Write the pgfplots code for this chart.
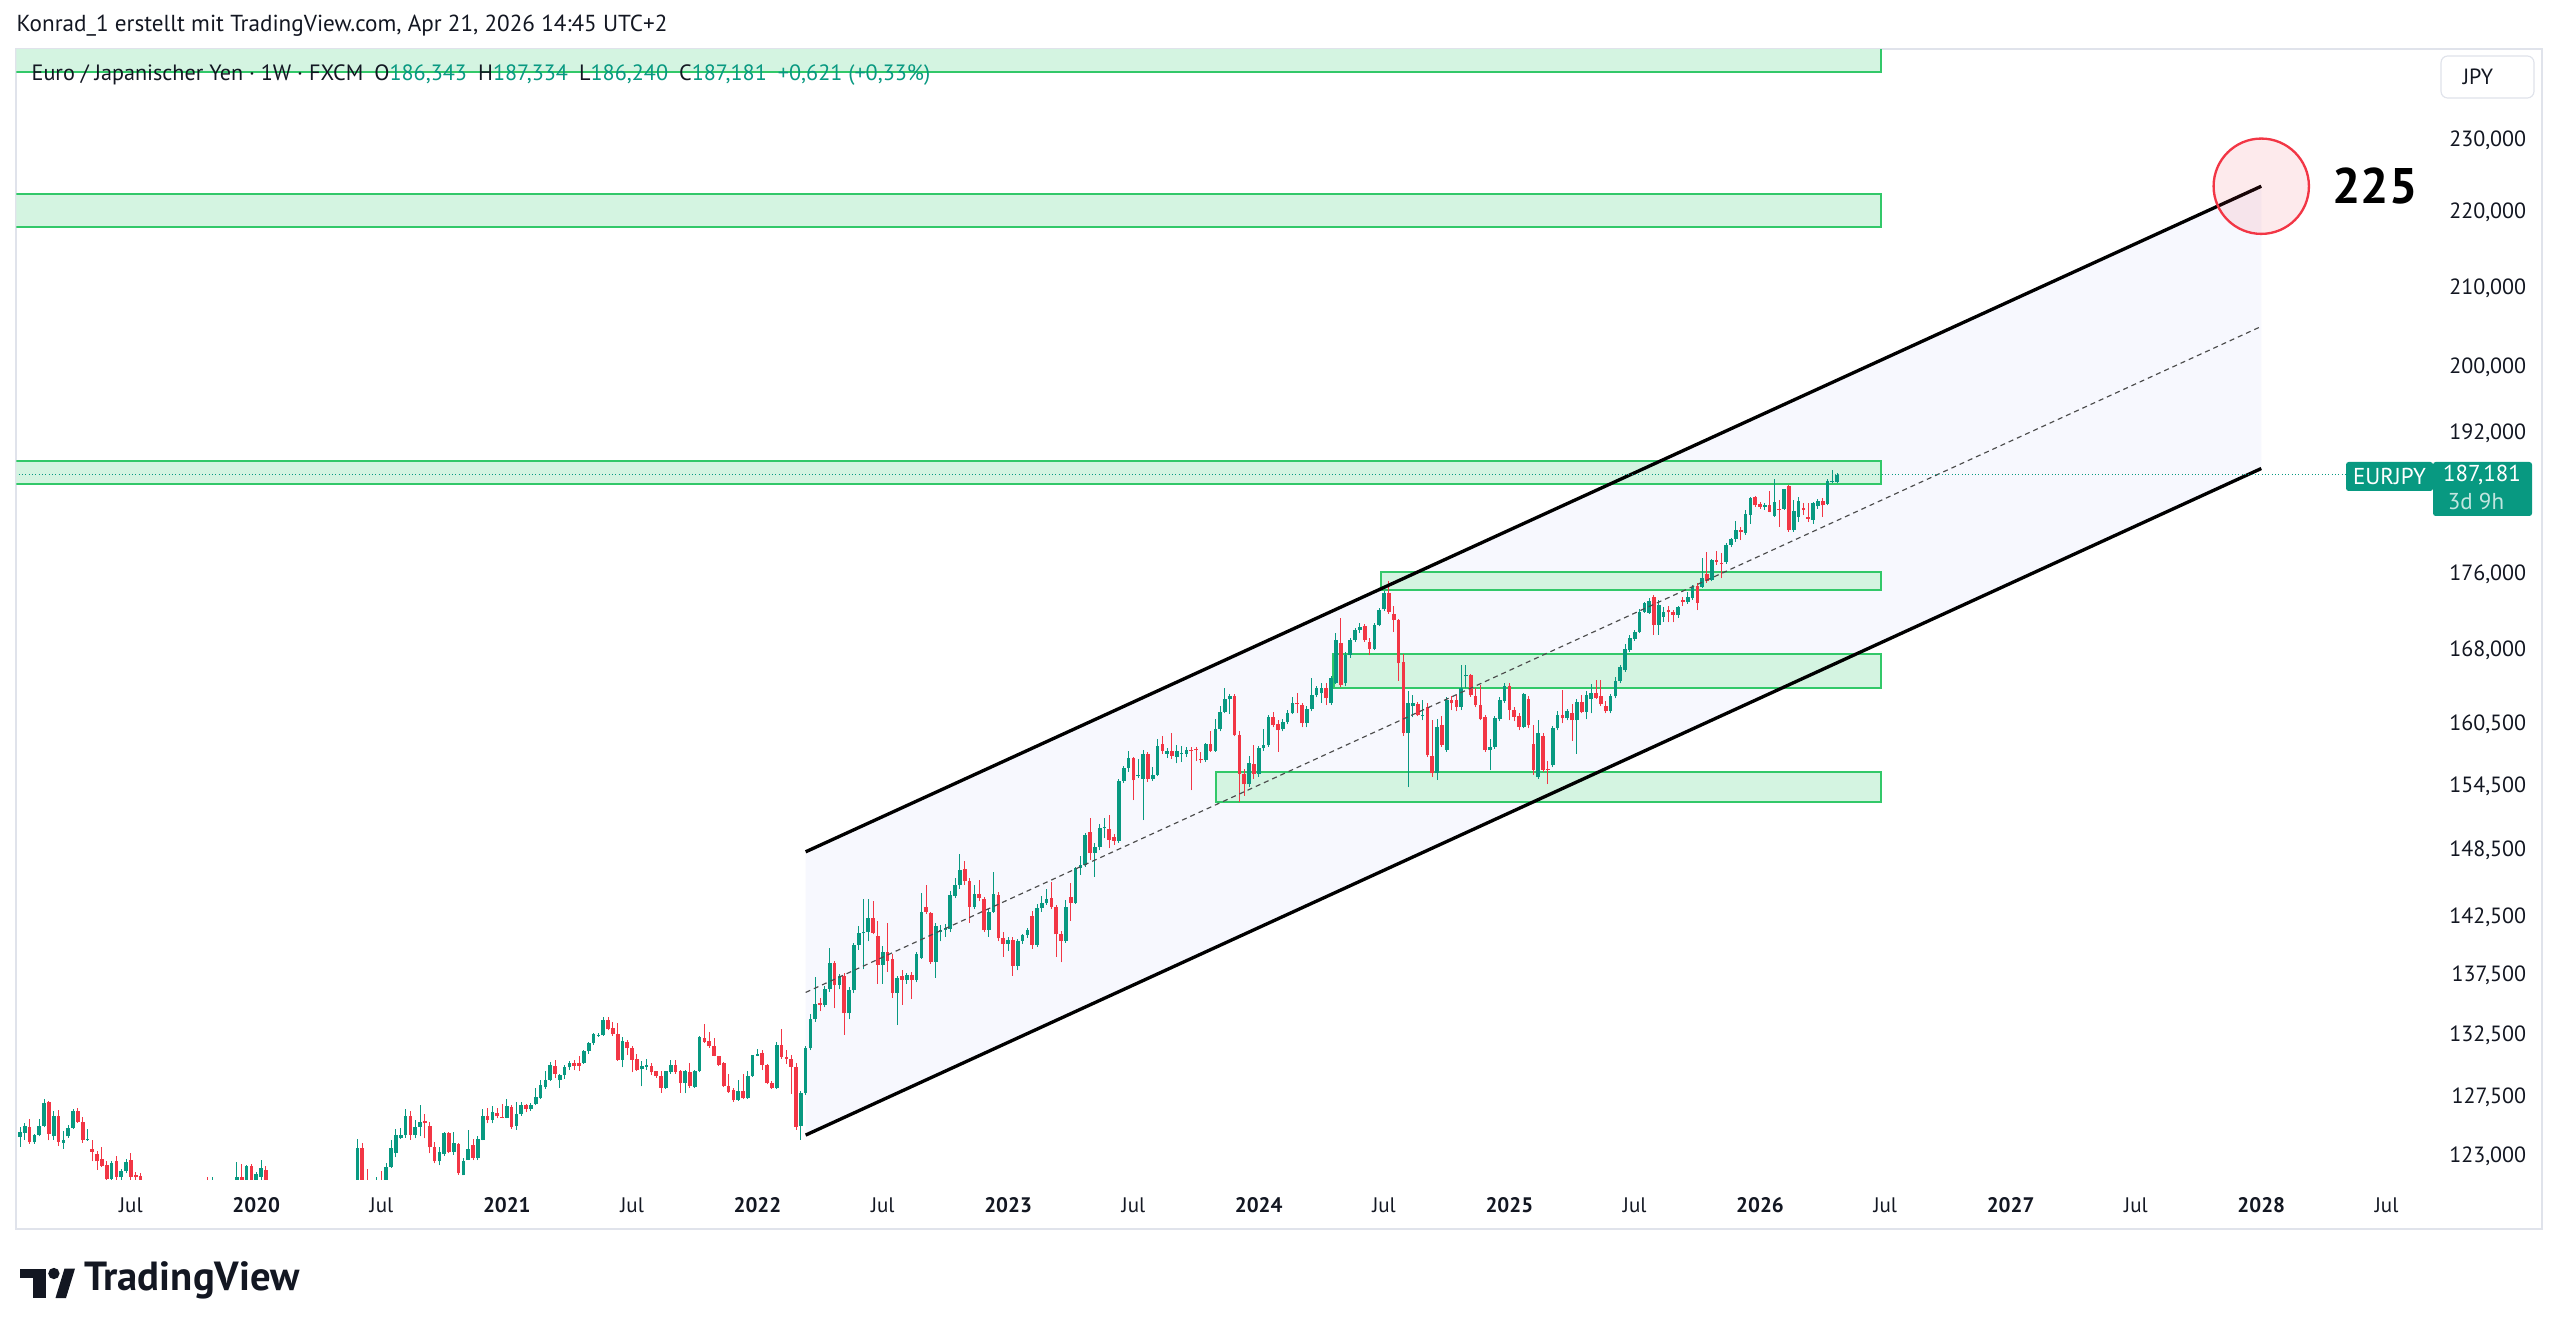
\documentclass[border=0pt]{standalone}
\usepackage{fontspec}
\setmainfont{PT Sans}
\usepackage{pgfplots}
\pgfplotsset{compat=1.18}
\usepackage{pgfplotstable}
\definecolor{tvgreen}{RGB}{8,153,129}
\definecolor{tvred}{RGB}{242,54,69}
\definecolor{tvtext}{RGB}{19,23,34}
\definecolor{zoneline}{RGB}{50,200,105}
\definecolor{zonefill}{RGB}{212,244,225}
\definecolor{chanfill}{RGB}{247,248,254}
\definecolor{bordergray}{RGB}{224,227,235}

% weekly candles EUR/JPY: week index, open, high, low, close
\pgfplotstableread{
i o h l c
0 124.44 125.23 123.70 124.82
1 124.77 125.54 124.26 125.33
2 125.23 125.84 123.95 124.06
3 124.06 124.70 123.95 124.59
4 124.59 125.84 124.50 125.33
5 125.33 127.37 125.20 127.07
6 127.17 127.24 124.20 124.69
7 124.50 126.48 124.26 126.10
8 126.05 126.55 123.75 124.06
9 124.00 124.90 123.55 124.26
10 124.50 125.40 124.40 125.15
11 125.15 126.63 125.10 126.43
12 126.43 126.68 125.54 125.64
13 125.64 126.00 124.00 124.21
14 124.21 125.08 124.15 124.34
15 123.55 124.26 122.60 123.34
16 123.16 123.37 121.97 122.60
17 122.80 123.65 122.20 122.27
18 122.35 122.60 121.00 121.25
19 121.25 122.60 121.00 122.47
20 122.65 123.04 121.10 121.45
21 121.40 122.00 121.00 121.84
22 121.84 122.80 121.70 122.53
23 122.73 123.24 121.10 121.45
24 121.58 121.76 121.00 121.40
25 121.50 121.70 120.50 121.20
26 120.90 121.10 118.90 119.20
27 119.20 119.60 117.60 117.90
28 117.90 118.40 116.00 117.40
29 117.40 118.60 117.00 118.20
30 118.20 118.90 117.60 117.80
31 117.80 118.50 117.20 118.30
32 118.30 119.30 118.00 119.10
33 119.10 119.40 118.20 118.50
34 118.50 119.00 117.60 118.00
35 118.00 119.00 117.80 118.70
36 118.70 120.20 118.50 120.00
37 120.00 121.00 119.70 120.70
38 120.70 121.10 120.10 120.50
39 120.60 121.45 120.00 120.20
40 120.20 121.40 119.90 120.80
41 120.80 121.10 120.10 120.30
42 120.30 121.00 119.80 120.60
43 120.60 121.10 120.20 120.50
44 120.50 121.10 120.00 120.90
45 121.00 122.53 120.60 121.45
46 121.45 122.40 120.70 121.00
47 121.00 122.35 120.80 122.27
48 122.27 122.40 120.50 121.00
49 121.00 121.80 120.60 121.66
50 121.45 122.73 121.20 122.10
51 121.96 122.22 120.50 121.00
52 121.00 121.10 119.80 120.20
53 120.20 120.90 119.50 120.60
54 120.60 121.10 119.90 120.30
55 120.30 120.80 118.60 119.00
56 119.00 119.60 117.80 118.40
57 118.40 119.20 115.90 117.90
58 117.90 120.00 116.80 119.80
59 119.80 121.10 116.20 117.40
60 117.40 119.30 115.70 118.90
61 118.90 119.80 117.40 118.30
62 118.30 118.90 117.00 117.90
63 117.90 118.60 115.50 116.80
64 116.80 117.60 115.90 117.20
65 117.20 117.80 114.40 115.90
66 115.90 116.80 114.80 116.30
67 116.30 117.90 115.70 117.60
68 117.60 119.60 117.20 119.30
69 119.30 121.00 118.80 120.70
70 121.00 124.30 120.80 123.62
71 123.62 124.00 120.90 121.00
72 121.00 122.00 119.90 120.50
73 120.50 121.10 119.70 120.90
74 120.90 121.45 120.30 121.10
75 121.10 121.84 120.60 120.90
76 121.00 122.50 120.70 122.17
77 122.17 124.20 122.10 123.62
78 123.24 125.08 122.90 124.60
79 124.39 125.15 124.30 124.64
80 124.57 126.60 124.40 126.05
81 126.05 126.43 124.26 124.64
82 124.60 125.77 124.35 125.25
83 125.25 126.94 124.50 125.60
84 125.66 126.20 124.35 125.50
85 125.30 125.60 123.20 123.65
86 123.65 124.10 122.45 122.60
87 122.60 123.70 122.30 123.30
88 123.15 124.85 123.00 124.80
89 124.80 124.85 123.20 123.30
90 123.30 124.85 123.10 124.00
91 123.90 124.00 121.60 121.70
92 121.55 122.85 121.55 122.60
93 122.70 125.00 122.70 123.50
94 123.85 124.30 122.70 122.85
95 122.85 124.50 122.70 124.30
96 124.25 126.60 124.20 126.10
97 126.05 126.70 125.50 125.80
98 125.80 126.85 125.50 126.40
99 126.30 126.70 125.90 126.05
100 126.00 127.00 125.90 125.95
101 125.95 127.40 125.90 126.85
102 126.80 126.95 125.10 125.20
103 125.30 127.20 125.00 126.20
104 126.20 127.20 126.10 126.90
105 126.90 127.00 126.35 126.60
106 126.60 127.05 126.50 126.95
107 127.00 128.30 126.90 127.60
108 127.50 128.90 127.40 128.50
109 128.35 129.60 128.20 128.90
110 128.90 130.35 128.85 130.10
111 130.00 130.50 129.10 129.40
112 128.88 129.40 128.30 129.30
113 129.30 130.10 129.00 129.90
114 129.90 130.40 129.70 130.30
115 130.30 130.50 129.70 130.05
116 130.30 130.80 129.60 130.00
117 130.30 131.30 130.20 131.20
118 131.20 132.00 131.00 131.85
119 131.85 132.70 131.70 132.60
120 132.50 132.70 132.40 132.55
121 132.50 134.00 132.45 133.75
122 133.75 134.00 132.90 133.00
123 133.10 133.60 132.45 132.60
124 132.60 133.50 130.45 130.50
125 130.50 132.40 129.90 132.05
126 132.00 132.10 130.90 131.45
127 131.45 131.60 129.50 130.50
128 130.55 131.00 129.65 129.70
129 129.75 130.45 128.40 130.00
130 129.95 130.60 129.70 130.10
131 130.05 130.30 129.30 129.50
132 129.60 129.65 129.10 129.20
133 129.25 129.60 127.90 128.30
134 128.30 129.60 128.20 129.60
135 129.50 130.50 129.40 130.10
136 130.10 130.50 129.40 129.55
137 129.65 129.70 127.90 128.65
138 128.65 129.70 127.85 129.60
139 129.55 130.30 128.30 128.45
140 128.35 129.70 128.25 129.65
141 129.60 132.45 129.50 132.35
142 132.30 133.40 131.90 132.00
143 132.05 132.80 131.50 131.60
144 131.65 132.30 130.80 130.85
145 130.80 130.85 130.00 130.10
146 130.25 130.35 128.35 128.40
147 128.45 129.35 127.90 127.95
148 128.10 128.30 127.20 127.30
149 127.35 128.90 127.25 128.05
150 128.00 129.40 127.40 127.45
151 127.45 129.60 127.40 129.25
152 129.20 130.90 129.15 130.90
153 130.85 131.40 130.80 131.00
154 131.05 131.30 129.70 130.10
155 130.10 130.20 128.55 128.65
156 128.70 128.85 128.20 128.25
157 128.25 132.00 128.20 131.70
158 131.70 133.00 130.60 130.77
159 130.77 131.30 130.20 130.60
160 130.60 130.90 127.80 129.97
161 129.97 130.30 125.00 125.25
162 125.30 128.00 124.23 127.85
163 127.85 131.60 127.70 131.45
164 131.45 134.30 131.30 133.82
165 133.82 137.38 133.60 135.09
166 135.20 135.60 134.50 135.00
167 135.00 136.60 134.80 136.34
168 136.34 139.80 136.10 138.57
169 138.57 138.70 134.73 136.68
170 136.68 137.60 136.30 137.44
171 137.44 137.70 132.54 134.31
172 134.31 136.50 133.80 136.25
173 136.25 140.30 136.00 140.09
174 140.09 141.70 139.70 141.16
175 141.10 144.08 138.00 141.25
176 141.20 144.10 140.40 142.41
177 142.41 143.90 141.00 141.15
178 140.90 142.20 136.80 138.37
179 138.37 140.00 136.80 139.45
180 139.45 142.00 137.80 138.74
181 138.90 139.30 135.60 136.04
182 136.04 137.40 133.35 137.24
183 137.40 137.90 135.00 137.10
184 137.10 137.70 136.80 137.50
185 137.50 137.80 135.50 137.10
186 137.10 139.50 136.90 139.28
187 139.00 144.62 138.90 142.99
188 143.44 145.37 142.80 143.00
189 142.90 143.00 138.50 138.65
190 138.65 142.00 137.30 141.73
191 141.20 141.80 140.40 141.40
192 141.40 141.90 140.80 141.60
193 141.50 144.80 141.20 144.44
194 144.40 146.00 144.20 145.40
195 145.37 148.20 145.00 146.71
196 146.80 147.50 145.40 145.70
197 145.70 146.00 142.00 143.44
198 143.44 145.40 143.20 144.60
199 144.60 145.80 143.90 144.20
200 144.10 144.30 141.20 141.40
201 141.40 143.20 140.80 143.00
202 143.00 146.57 142.90 144.57
203 144.50 144.70 140.40 140.67
204 140.67 141.20 139.09 140.18
205 140.18 140.80 139.60 140.50
206 140.50 140.80 137.45 138.31
207 138.31 140.60 137.90 140.46
208 140.46 141.00 140.20 140.95
209 140.95 141.60 140.70 141.40
210 142.60 143.10 139.75 140.10
211 140.10 143.70 139.90 143.29
212 143.29 144.40 143.00 143.74
213 143.74 145.00 143.60 144.12
214 144.20 145.60 143.20 143.44
215 143.44 143.60 139.10 141.00
216 141.00 141.30 138.60 140.46
217 140.46 144.00 140.30 143.40
218 144.33 145.50 142.20 143.80
219 143.80 147.00 143.70 146.87
220 146.87 148.00 146.30 147.20
221 147.20 150.10 147.00 149.90
222 150.20 151.46 147.60 148.30
223 148.30 149.20 146.10 148.84
224 148.84 150.90 148.50 150.53
225 150.53 151.50 149.60 150.70
226 150.50 151.80 148.70 149.50
227 149.70 150.00 149.00 149.40
228 149.40 155.20 149.20 155.00
229 155.00 156.40 154.80 156.20
230 156.20 157.90 155.90 157.17
231 157.17 157.30 153.18 155.06
232 155.50 157.10 155.30 155.60
233 155.20 158.00 151.30 157.55
234 157.55 157.80 154.90 155.20
235 155.20 156.30 155.00 155.60
236 155.60 159.10 155.50 158.37
237 158.60 159.30 157.60 157.90
238 157.60 158.20 157.20 157.90
239 157.90 159.60 157.10 157.40
240 157.30 158.50 156.70 157.90
241 157.60 158.40 156.80 157.70
242 157.60 158.30 157.30 158.00
243 158.00 158.30 154.10 157.90
244 158.05 158.30 156.90 157.95
245 157.10 157.80 156.70 157.00
246 157.00 158.70 156.80 158.57
247 158.60 159.80 157.80 157.90
248 157.90 161.00 157.80 160.00
249 160.00 162.30 159.80 161.76
250 161.76 164.10 161.60 162.99
251 162.99 163.50 161.50 163.30
252 163.30 163.50 159.30 159.44
253 159.44 159.80 153.03 155.70
254 155.70 156.10 153.60 154.67
255 154.67 157.40 154.40 156.68
256 156.60 158.50 155.20 155.65
257 155.65 158.40 155.40 158.14
258 158.14 160.00 157.90 158.50
259 158.50 161.40 158.30 161.20
260 161.20 161.70 160.20 160.40
261 160.50 160.90 157.80 159.90
262 160.00 161.00 159.80 160.70
263 160.70 161.90 160.50 161.60
264 161.60 163.20 161.50 162.65
265 162.65 163.60 161.60 162.50
266 162.40 162.60 160.20 160.60
267 160.60 162.30 160.20 162.00
268 162.00 165.10 161.80 163.40
269 163.40 164.30 163.20 164.10
270 163.60 164.60 162.60 164.10
271 164.10 164.60 162.40 163.10
272 162.60 165.30 162.40 165.10
273 164.60 169.80 164.50 169.06
274 168.70 171.33 164.20 164.40
275 164.60 167.80 164.30 167.50
276 167.50 169.30 167.20 169.06
277 169.10 170.30 168.90 170.10
278 170.10 170.80 169.80 170.45
279 170.50 170.70 168.90 169.06
280 168.90 169.30 167.50 168.18
281 168.18 170.80 168.00 170.63
282 170.63 172.40 170.50 172.20
283 172.30 174.30 172.10 174.07
284 174.00 175.30 171.80 172.00
285 171.85 172.60 169.90 171.15
286 171.15 171.30 164.90 166.65
287 166.80 167.66 159.40 159.60
288 159.60 163.80 154.40 162.59
289 162.30 163.40 161.20 162.60
290 162.50 162.70 161.30 161.40
291 161.30 162.90 160.90 161.45
292 162.26 162.60 157.30 157.48
293 157.40 160.90 155.40 155.72
294 155.72 161.00 155.10 160.27
295 160.40 161.30 158.30 158.47
296 157.97 163.26 157.80 162.93
297 162.93 163.30 161.90 162.59
298 162.90 163.40 161.80 162.26
299 162.26 166.48 161.90 164.10
300 165.30 166.50 164.10 165.45
301 165.45 165.60 163.26 163.40
302 163.30 164.10 162.20 162.40
303 162.40 164.40 160.90 161.00
304 161.26 161.40 157.80 157.97
305 157.97 159.10 156.00 158.30
306 158.30 161.30 158.10 161.10
307 161.00 163.26 160.80 162.93
308 162.80 164.60 162.60 164.30
309 164.30 164.60 160.90 161.93
310 161.93 162.26 160.80 161.26
311 161.30 161.60 159.90 160.27
312 160.27 163.60 160.10 163.50
313 163.00 163.30 160.10 160.40
314 158.60 160.40 155.60 156.04
315 155.41 160.93 155.20 159.60
316 159.30 159.60 155.90 156.04
317 156.10 156.90 154.70 156.00
318 156.50 160.30 156.30 160.10
319 160.10 161.80 159.90 161.40
320 161.40 163.90 160.60 161.10
321 161.10 162.00 160.90 161.80
322 161.60 162.50 158.90 160.90
323 160.90 163.00 157.60 162.76
324 162.70 163.40 161.60 161.70
325 161.70 163.80 161.00 163.40
326 163.00 164.50 161.60 163.60
327 163.60 165.00 163.00 163.10
328 163.30 165.00 162.30 162.50
329 162.30 162.80 161.60 161.80
330 161.80 163.50 161.60 163.30
331 163.30 165.20 163.10 164.87
332 164.87 166.50 164.60 166.24
333 166.00 168.60 165.80 168.18
334 168.00 169.60 167.80 169.23
335 169.20 170.10 169.00 169.90
336 169.90 172.30 169.80 172.03
337 172.00 173.10 171.90 172.93
338 171.90 173.50 171.80 173.20
339 173.60 173.80 169.60 170.63
340 170.63 173.28 169.60 172.74
341 171.50 172.50 171.00 172.03
342 172.20 172.60 170.90 172.00
343 172.00 172.20 170.90 171.70
344 171.70 172.70 171.40 172.50
345 173.28 173.60 172.70 173.10
346 173.10 174.10 172.90 173.60
347 173.45 174.90 173.30 174.71
348 174.78 175.08 172.20 173.00
349 174.70 177.79 174.60 175.60
350 176.08 178.50 175.10 175.30
351 175.45 177.70 175.30 177.60
352 177.60 178.60 177.10 177.40
353 177.30 178.40 175.60 177.20
354 177.40 179.50 177.20 179.26
355 179.26 180.00 179.00 179.90
356 179.90 181.90 179.60 180.92
357 180.90 181.30 179.80 180.70
358 180.55 183.20 180.40 182.71
359 182.60 184.70 181.60 184.48
360 184.60 184.80 183.50 183.70
361 183.90 184.10 183.30 183.50
362 183.50 184.00 183.20 183.70
363 183.70 185.30 182.90 183.00
364 182.50 186.66 182.40 184.10
365 183.30 184.30 181.30 183.20
366 183.30 185.60 183.20 185.50
367 185.90 186.00 180.70 180.90
368 180.90 184.30 180.70 183.10
369 182.40 184.70 181.80 184.20
370 183.40 184.00 182.60 183.20
371 182.40 184.00 181.80 182.20
372 182.10 184.10 181.60 184.00
373 183.60 184.40 183.30 184.20
374 184.20 184.50 182.40 183.70
375 183.90 186.70 183.70 186.50
376 186.40 187.70 186.30 186.50
377 186.343 187.334 186.240 187.181
}\candles

\begin{document}
\begin{tikzpicture}
\begin{scope}[x=0.3pt,y=0.3pt]
\path[fill=white] (0,0) rectangle (2560,1336);
\draw[bordergray, line width=0.35pt] (16,107) rectangle (2542,1287);
\end{scope}
\begin{axis}[
  at={(4.89pt,47.1pt)}, anchor=south west,
  scale only axis, width=723.96pt, height=339pt,
  xmin=-0.77, xmax=499.9,
  ymin=4.798019, ymax=5.494418,
  axis line style={draw=none},
  major tick length=0pt, minor tick num=0,
  xtick={23,49,75,101,127,153,179,205,231,257,283,309,335,361,387,413,439,465,491},
  xticklabels={Jul,\textbf{2020},Jul,\textbf{2021},Jul,\textbf{2022},Jul,\textbf{2023},Jul,\textbf{2024},Jul,\textbf{2025},Jul,\textbf{2026},Jul,\textbf{2027},Jul,\textbf{2028},Jul},
  xticklabel style={anchor=center, yshift=-7.8pt, font=\fontsize{6.3}{7}\selectfont, text=tvtext},
  % price levels 123 127.5 132.5 137.5 142.5 148.5 154.5 160.5 168 176 192 200 210 220 230 (log scale)
  ytick={4.812184,4.848116,4.886582,4.923623,4.959341,5.000584,5.040193,5.078293,5.123963,5.170483,5.257494,5.298317,5.347108,5.393628,5.438079},
  yticklabels={{123,000},{127,500},{132,500},{137,500},{142,500},{148,500},{154,500},{160,500},{168,000},{176,000},{192,000},{200,000},{210,000},{220,000},{230,000}},
  yticklabel pos=right,
  yticklabel style={anchor=east, inner sep=0pt, xshift=29.2pt, font=\fontsize{6.6}{7.5}\selectfont, text=tvtext},
  clip=true,
]
% channel fill
\addplot[fill=chanfill, draw=none, forget plot] table[row sep=\\, x=x, y expr=ln(\thisrow{p})] {x p\\ 163 148.37\\ 465 223.6\\ 465 187.9\\ 163 124.6\\} -- cycle;
% zones
\addplot[fill=zonefill, draw=zoneline, line width=0.65pt, forget plot] table[row sep=\\, x=x, y expr=ln(\thisrow{p})] {x p\\ -5 239.9\\ 386.1 239.9\\ 386.1 260\\ -5 260\\} -- cycle;
\addplot[fill=zonefill, draw=zoneline, line width=0.65pt, forget plot] table[row sep=\\, x=x, y expr=ln(\thisrow{p})] {x p\\ -5 218.05\\ 386.1 218.05\\ 386.1 222.49\\ -5 222.49\\} -- cycle;
\addplot[fill=zonefill, draw=zoneline, line width=0.65pt, forget plot] table[row sep=\\, x=x, y expr=ln(\thisrow{p})] {x p\\ -5 186.1\\ 386.1 186.1\\ 386.1 188.8\\ -5 188.8\\} -- cycle;
\addplot[fill=zonefill, draw=zoneline, line width=0.65pt, forget plot] table[row sep=\\, x=x, y expr=ln(\thisrow{p})] {x p\\ 282.4 174.4\\ 386.1 174.4\\ 386.1 176.3\\ 282.4 176.3\\} -- cycle;
\addplot[fill=zonefill, draw=zoneline, line width=0.65pt, forget plot] table[row sep=\\, x=x, y expr=ln(\thisrow{p})] {x p\\ 272.5 164.1\\ 386.1 164.1\\ 386.1 167.57\\ 272.5 167.57\\} -- cycle;
\addplot[fill=zonefill, draw=zoneline, line width=0.65pt, forget plot] table[row sep=\\, x=x, y expr=ln(\thisrow{p})] {x p\\ 248.2 153.0\\ 386.1 153.0\\ 386.1 155.85\\ 248.2 155.85\\} -- cycle;
% wicks
\addplot[draw=none, mark=none, forget plot,
  restrict expr to domain={\thisrow{c}-\thisrow{o}}{0:1000},
  error bars/.cd, y dir=plus, y explicit, error mark=none,
  error bar style={tvgreen, line width=0.3pt}]
  table[x=i, y expr=ln(\thisrow{l}), y error plus expr=ln(\thisrow{h})-ln(\thisrow{l})] {\candles};
\addplot[draw=none, mark=none, forget plot,
  restrict expr to domain={\thisrow{o}-\thisrow{c}}{0.000001:1000},
  error bars/.cd, y dir=plus, y explicit, error mark=none,
  error bar style={tvred, line width=0.3pt}]
  table[x=i, y expr=ln(\thisrow{l}), y error plus expr=ln(\thisrow{h})-ln(\thisrow{l})] {\candles};
% bodies
\addplot[draw=none, mark=none, forget plot,
  restrict expr to domain={\thisrow{c}-\thisrow{o}}{0:1000},
  error bars/.cd, y dir=plus, y explicit, error mark=none,
  error bar style={tvgreen, line width=1.1pt}]
  table[x=i, y expr=ln(\thisrow{o}), y error plus expr=ln(\thisrow{c})-ln(\thisrow{o})] {\candles};
\addplot[draw=none, mark=none, forget plot,
  restrict expr to domain={\thisrow{o}-\thisrow{c}}{0.000001:1000},
  error bars/.cd, y dir=plus, y explicit, error mark=none,
  error bar style={tvred, line width=1.1pt}]
  table[x=i, y expr=ln(\thisrow{c}), y error plus expr=ln(\thisrow{o})-ln(\thisrow{c})] {\candles};
% channel lines
\addplot[black, line width=1pt, forget plot] table[row sep=\\, x=x, y expr=ln(\thisrow{p})] {x p\\ 163 148.37\\ 465 223.6\\};
\addplot[black, line width=1pt, forget plot] table[row sep=\\, x=x, y expr=ln(\thisrow{p})] {x p\\ 163 124.6\\ 465 187.9\\};
\addplot[black!70, line width=0.35pt, dash pattern=on 1.5pt off 1.2pt, forget plot] table[row sep=\\, x=x, y expr=ln(\thisrow{p})] {x p\\ 163 136.05\\ 465 205.1\\};
% last price line
\addplot[tvgreen, line width=0.3pt, dash pattern=on 0.3pt off 0.7pt, forget plot] table[row sep=\\, x=x, y expr=ln(\thisrow{p})] {x p\\ -1 187.181\\ 482.6 187.181\\};
\coordinate (circ) at (axis cs:465,5.409858);
\end{axis}
\begin{scope}[x=0.3pt,y=0.3pt]
% target circle
\draw[tvred, line width=0.7pt, fill=tvred, fill opacity=0.1] (circ) circle[radius=14.3pt];
\node[font=\bfseries\fontsize{15}{15}\selectfont, text=black] at (2375,1150) {225};
% header
\node[anchor=west, font=\fontsize{6.95}{8}\selectfont, text=tvtext, inner sep=0pt] at (16,1310) {Konrad\_1 erstellt mit TradingView.com, Apr 21, 2026 14:45 UTC+2};
\node[anchor=west, font=\fontsize{6.65}{8}\selectfont, text=tvtext, inner sep=0pt] at (31,1261) {Euro / Japanischer Yen · 1W · FXCM\enspace O\textcolor{tvgreen}{186,343}\enspace H\textcolor{tvgreen}{187,334}\enspace L\textcolor{tvgreen}{186,240}\enspace C\textcolor{tvgreen}{187,181}\enspace\textcolor{tvgreen}{+0,621 (+0,33\%)}};
% JPY box
\draw[bordergray, line width=0.35pt, rounded corners=2pt, fill=white] (2441,1238) rectangle (2534,1280);
\node[font=\fontsize{6.6}{7.5}\selectfont, text=tvtext] at (2478,1259) {JPY};
% price labels
\fill[tvgreen, rounded corners=0.8pt] (2346,845) rectangle (2433,874);
\node[font=\fontsize{6.9}{8}\selectfont, text=white] at (2389.5,859.5) {EURJPY};
\fill[tvgreen, rounded corners=0.8pt] (2433,820) rectangle (2532,874);
\node[font=\fontsize{6.9}{8}\selectfont, text=white] at (2482,861) {187,181};
\node[font=\fontsize{6.9}{8}\selectfont, text=white!75!tvgreen] at (2476,835) {3d 9h};
% logo
\fill[tvtext] (19.6,57.6) rectangle (45.7,67.4);
\fill[tvtext] (32.7,38) rectangle (45.7,57.6);
\fill[tvtext] (53.9,62.5) circle[radius=1.7pt];
\fill[tvtext] (55.5,38) -- (66,38) -- (75,67.4) -- (64.5,67.4) -- cycle;
\node[anchor=west, font=\bfseries\fontsize{12.2}{13}\selectfont, text=tvtext, inner sep=0pt] at (84,56) {TradingView};
\end{scope}
\end{tikzpicture}
\end{document}
